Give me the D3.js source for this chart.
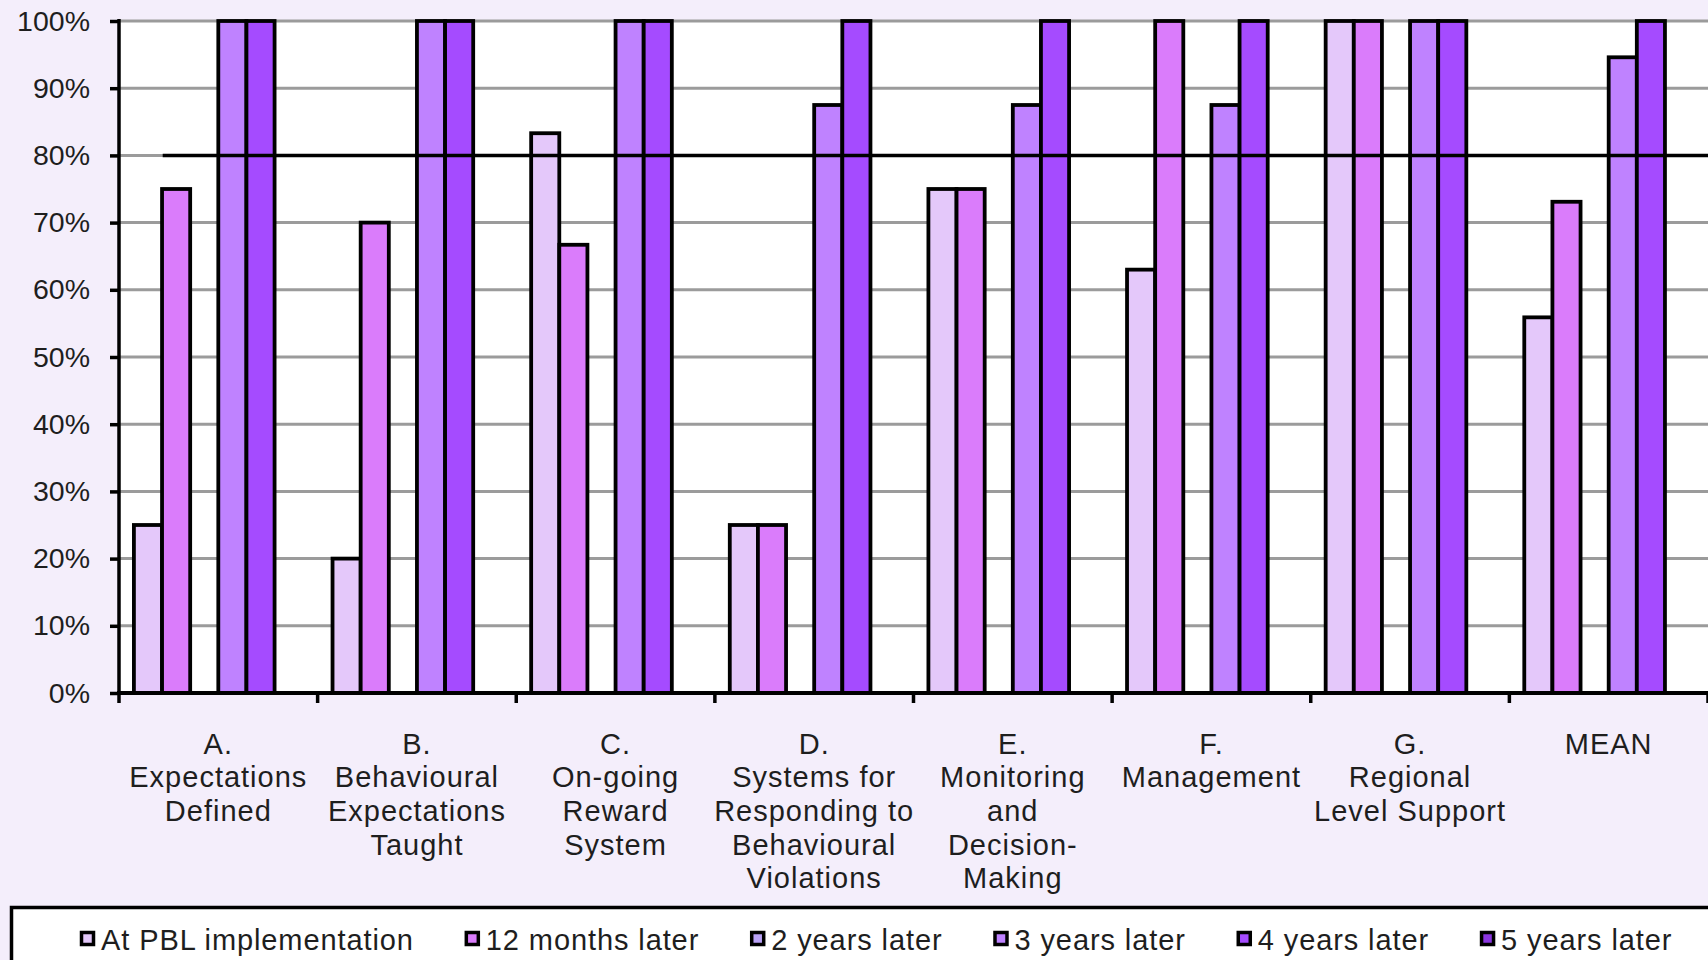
<!DOCTYPE html>
<html>
<head>
<meta charset="utf-8">
<script src="https://cdn.jsdelivr.net/npm/d3@7"></script>
<style>
  html, body { margin: 0; padding: 0; background: #F4EEFB; }
  svg { display: block; }
  text { font-family: "Liberation Sans", Arial, sans-serif; fill: #1e1e1e; }
</style>
</head>
<body>
<svg id="chart" width="1708" height="960"></svg>
<script>
// Category labels (one entry per line of the wrapped label)
const categories = [
  ["A.", "Expectations", "Defined"],
  ["B.", "Behavioural", "Expectations", "Taught"],
  ["C.", "On-going", "Reward", "System"],
  ["D.", "Systems for", "Responding to", "Behavioural", "Violations"],
  ["E.", "Monitoring", "and", "Decision-", "Making"],
  ["F.", "Management"],
  ["G.", "Regional", "Level Support"],
  ["MEAN"]
];

// Series names and per-category percentages (null = no data)
const seriesNames = ["At PBL implementation", "12 months later", "2 years later",
                     "3 years later", "4 years later", "5 years later"];
const atImplementation = [25, 20, 83.3, 25, 75, 63, 100, 55.9];
const months12         = [75, 70, 66.7, 25, 75, 100, 100, 73.1];
const years2           = [null, null, null, null, null, null, null, null];
const years3           = [100, 100, 100, 87.5, 87.5, 87.5, 100, 94.6];
const years4           = [100, 100, 100, 100, 100, 100, 100, 100];
const years5           = [null, null, null, null, null, null, null, null];
const seriesColors = ["#E4C8FA", "#DA7CFB", "#BAA2F7", "#BF82FF", "#A54BFF", "#8B36E0"];

// Target level drawn across the chart
const targetValue = 80;

// Y axis tick values
const yTicks = [0, 10, 20, 30, 40, 50, 60, 70, 80, 90, 100];

const seriesValues = [atImplementation, months12, years2, years3, years4, years5];

const svg = d3.select("#chart");
const W = 1708, H = 960;
const plot = { left: 119, right: 1708, top: 21, bottom: 693 };

const catIdx = d3.range(categories.length);
const x0 = d3.scaleBand().domain(catIdx).range([plot.left, plot.right]).paddingInner(0).paddingOuter(0);
const x1 = d3.scaleBand().domain(d3.range(seriesNames.length)).range([0, x0.bandwidth()])
  .paddingInner(0).paddingOuter(0.53);
const y = d3.scaleLinear().domain([0, 100]).range([plot.bottom, plot.top]);

// Plot area background
svg.append("rect")
  .attr("x", plot.left).attr("y", plot.top)
  .attr("width", plot.right - plot.left).attr("height", plot.bottom - plot.top)
  .attr("fill", "#ffffff");

// Horizontal gridlines
svg.append("g")
  .selectAll("line")
  .data(yTicks.filter(t => t > 0))
  .join("line")
  .attr("x1", plot.left).attr("x2", plot.right + 2)
  .attr("y1", d => y(d)).attr("y2", d => y(d))
  .attr("stroke", "#9b9b9b").attr("stroke-width", 3);

// Bars
const groups = svg.append("g")
  .selectAll("g")
  .data(catIdx)
  .join("g")
  .attr("transform", i => `translate(${x0(i)},0)`);

groups.selectAll("rect")
  .data(i => seriesValues.map((vals, s) => ({ s, v: vals[i] })).filter(d => d.v != null))
  .join("rect")
  .attr("x", d => x1(d.s))
  .attr("y", d => y(d.v))
  .attr("width", x1.bandwidth())
  .attr("height", d => y(0) - y(d.v))
  .attr("fill", d => seriesColors[d.s])
  .attr("stroke", "#000")
  .attr("stroke-width", 3.8);

// 80% target line
svg.append("line")
  .attr("x1", x0(0) + x0.bandwidth() * 0.22)
  .attr("x2", plot.right + 2)
  .attr("y1", y(targetValue)).attr("y2", y(targetValue))
  .attr("stroke", "#000").attr("stroke-width", 3.5);

// Y axis
const yAxis = svg.append("g")
  .attr("transform", `translate(${plot.left},0)`)
  .call(d3.axisLeft(y).tickValues(yTicks).tickFormat(d => d + "%").tickSize(9).tickPadding(20));
yAxis.select(".domain").attr("stroke", "#000").attr("stroke-width", 3.5)
  .attr("d", `M0,${plot.top - 2}V${plot.bottom}`);
yAxis.selectAll(".tick line").attr("stroke", "#000").attr("stroke-width", 3.5);
yAxis.selectAll(".tick text")
  .style("font-family", "'Liberation Sans', Arial, sans-serif")
  .style("font-size", "28.5px").attr("fill", "#1e1e1e");

// X axis line with ticks at category boundaries
const xg = svg.append("g");
xg.append("line")
  .attr("x1", plot.left - 2).attr("x2", plot.right + 2)
  .attr("y1", plot.bottom).attr("y2", plot.bottom)
  .attr("stroke", "#000").attr("stroke-width", 4);
xg.selectAll("line.tk")
  .data(d3.range(categories.length + 1))
  .join("line").attr("class", "tk")
  .attr("x1", i => plot.left + i * x0.step()).attr("x2", i => plot.left + i * x0.step())
  .attr("y1", plot.bottom).attr("y2", plot.bottom + 10)
  .attr("stroke", "#000").attr("stroke-width", 3.5);

// Category labels
const lineH = 33.7;
svg.append("g")
  .selectAll("text")
  .data(catIdx)
  .join("text")
  .attr("text-anchor", "middle")
  .style("font-size", "29px")
  .style("letter-spacing", "1px")
  .each(function (i) {
    const t = d3.select(this);
    categories[i].forEach((ln, k) => {
      t.append("tspan")
        .attr("x", x0(i) + x0.bandwidth() / 2)
        .attr("y", 753.5 + k * lineH)
        .text(ln);
    });
  });

// Legend
const legend = svg.append("g");
legend.append("rect")
  .attr("x", 11.5).attr("y", 907.5)
  .attr("width", W + 20).attr("height", 100)
  .attr("fill", "#ffffff").attr("stroke", "#000").attr("stroke-width", 3.5);

let lx = 80;
seriesNames.forEach((name, s) => {
  const item = legend.append("g").attr("transform", `translate(${lx},939)`);
  item.append("rect")
    .attr("x", 1.5).attr("y", -6.5).attr("width", 12).attr("height", 12)
    .attr("fill", seriesColors[s]).attr("stroke", "#000").attr("stroke-width", 3.5);
  const txt = item.append("text")
    .attr("x", 21).attr("y", 10.5)
    .style("font-size", "29px")
    .style("letter-spacing", "0.9px")
    .text(name);
  const tw = txt.node().getComputedTextLength();
  lx += 21 + tw + 51;
});
</script>
</body>
</html>
